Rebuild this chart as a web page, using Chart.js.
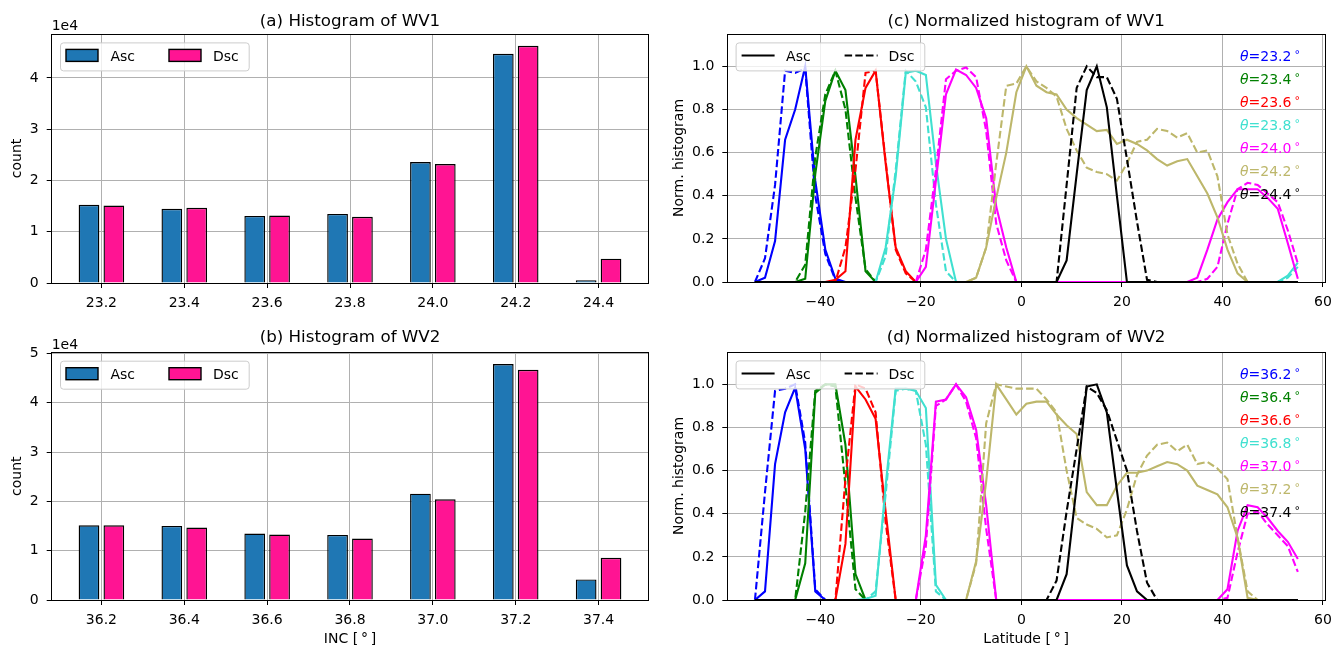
<!DOCTYPE html>
<html>
<head>
<meta charset="utf-8">
<script src="https://cdn.jsdelivr.net/npm/chart.js@4.4.1/dist/chart.umd.min.js"></script>
<style>
  html, body { margin: 0; padding: 0; background: #fff; }
  #wrap { position: relative; width: 1344px; height: 648px; }
  canvas { position: absolute; left: 0; top: 0; }
</style>
</head>
<body>
<div id="wrap">
  <canvas id="histWV1" width="1344" height="648"></canvas>
  <canvas id="histWV2" width="1344" height="648"></canvas>
  <canvas id="normWV1" width="1344" height="648"></canvas>
  <canvas id="normWV2" width="1344" height="648"></canvas>
</div>
<script>
// ====================== Histogram data (a), (b) ======================
const incWV1 = [23.2, 23.4, 23.6, 23.8, 24.0, 24.2, 24.4];
const incWV2 = [36.2, 36.4, 36.6, 36.8, 37.0, 37.2, 37.4];
const countWV1Asc = [15240, 14460, 13090, 13480, 23580, 44690, 520];
const countWV1Dsc = [15110, 14660, 13160, 12900, 23200, 46250, 4750];
const countWV2Asc = [15160, 15030, 13480, 13210, 21570, 47860, 4180];
const countWV2Dsc = [15160, 14690, 13270, 12470, 20420, 46710, 8560];
const countTicks = [0, 10000, 20000, 30000, 40000, 50000];

// ====================== Normalized histograms (c), (d) ======================
const latitudes = [-53, -51, -49, -47, -45, -43, -41, -39, -37, -35, -33, -31, -29, -27, -25, -23, -21, -19,
  -17, -15, -13, -11, -9, -7, -5, -3, -1, 1, 3, 5, 7, 9, 11, 13, 15, 17, 19, 21, 23, 25, 27, 29, 31, 33,
  35, 37, 39, 41, 43, 45, 47, 49, 51, 53, 55];
const latTicks = [-40, -20, 0, 20, 40, 60];
const normTicks = [0, 0.2, 0.4, 0.6, 0.8, 1.0];

// each series: runs of [first latitude, values every 2 deg], zero elsewhere
const wv1Asc232 = [[-53, [0, 0.02, 0.19, 0.66, 0.8, 1.0, 0.47, 0.15, 0.015]]];
const wv1Dsc232 = [[-53, [0, 0.11, 0.45, 0.98, 0.97, 0.99, 0.4, 0.13, 0.01]]];
const wv1Asc234 = [[-45, [0, 0.015, 0.5, 0.84, 0.98, 0.89, 0.49, 0.05]]];
const wv1Dsc234 = [[-45, [0, 0.08, 0.58, 0.87, 0.98, 0.8, 0.39, 0.06]]];
const wv1Asc236 = [[-37, [0.01, 0.05, 0.66, 0.9, 0.98, 0.55, 0.16, 0.05]]];
const wv1Dsc236 = [[-37, [0, 0.16, 0.52, 0.97, 0.98, 0.56, 0.15, 0.04]]];
const wv1Asc238 = [[-29, [0, 0.16, 0.49, 0.97, 0.98, 0.96, 0.55, 0.2]], [51, [0, 0.03, 0.09]]];
const wv1Dsc238 = [[-29, [0, 0.12, 0.52, 0.98, 0.93, 0.81, 0.36, 0.05]], [51, [0, 0.02, 0.07]]];
const wv1Asc240 = [[-21, [0, 0.07, 0.47, 0.87, 0.985, 0.96, 0.9, 0.76, 0.35, 0.16]],
  [33, [0, 0.02, 0.15, 0.29, 0.37, 0.43, 0.43, 0.43, 0.39, 0.34, 0.18, 0.015]]];
const wv1Dsc240 = [[-21, [0, 0.15, 0.52, 0.94, 0.98, 0.995, 0.95, 0.7, 0.27, 0.1]],
  [35, [0, 0.015, 0.07, 0.27, 0.43, 0.46, 0.45, 0.41, 0.37, 0.24, 0.085]]];
const wv1Asc242 = [[-11, [0, 0.02, 0.16, 0.39, 0.6, 0.88, 1.0, 0.91, 0.88, 0.87, 0.8, 0.76, 0.73, 0.7,
  0.705, 0.64, 0.66, 0.64, 0.61, 0.57, 0.54, 0.56, 0.57, 0.49, 0.41, 0.3, 0.15, 0.04]]];
const wv1Dsc242 = [[-11, [0, 0.02, 0.16, 0.55, 0.91, 0.92, 1.0, 0.93, 0.9, 0.86, 0.71, 0.61, 0.53, 0.51,
  0.5, 0.47, 0.55, 0.65, 0.66, 0.71, 0.7, 0.67, 0.69, 0.6, 0.61, 0.49, 0.22, 0.085]]];
const wv1Asc244 = [[5, [0, 0, 0.1, 0.5, 0.89, 1.0, 0.81, 0.4]]];
const wv1Dsc244 = [[5, [0, 0, 0.45, 0.9, 1.0, 0.95, 0.95, 0.85, 0.57, 0.28, 0.01]]];

const wv2Asc362 = [[-53, [0, 0.04, 0.63, 0.87, 0.985, 0.7, 0.04]]];
const wv2Dsc362 = [[-53, [0, 0.5, 0.97, 0.98, 1.0, 0.73, 0.05]]];
const wv2Asc364 = [[-45, [0, 0.17, 0.96, 1.0, 1.0, 0.72, 0.12]]];
const wv2Dsc364 = [[-45, [0, 0.41, 0.97, 1.0, 0.99, 0.53, 0.05]]];
const wv2Asc366 = [[-37, [0, 0.26, 0.99, 0.93, 0.84, 0.41]]];
const wv2Dsc366 = [[-37, [0, 0.56, 1.0, 0.98, 0.87, 0.36]]];
const wv2Asc368 = [[-31, [0.005, 0.02, 0.53, 0.98, 0.98, 0.97, 0.89, 0.07]]];
const wv2Dsc368 = [[-31, [0, 0.04, 0.49, 0.97, 0.98, 0.97, 0.72, 0.04]]];
const wv2Asc370 = [[-21, [0, 0.3, 0.92, 0.93, 1.0, 0.94, 0.79, 0.44]],
  [39, [0, 0.05, 0.32, 0.44, 0.43, 0.38, 0.32, 0.27, 0.19]]];
const wv2Dsc370 = [[-21, [0, 0.25, 0.9, 0.93, 1.0, 0.92, 0.75, 0.33]],
  [39, [0, 0.01, 0.22, 0.4, 0.41, 0.35, 0.3, 0.25, 0.13]]];
const wv2Asc372 = [[-11, [0, 0.18, 0.55, 1.0, 0.93, 0.86, 0.91, 0.92, 0.92, 0.86, 0.81, 0.77, 0.5, 0.44,
  0.44, 0.53, 0.59, 0.59, 0.6, 0.62, 0.64, 0.63, 0.6, 0.53, 0.51, 0.49, 0.43, 0.29, 0.01]]];
const wv2Dsc372 = [[-11, [0, 0.17, 0.82, 1.0, 0.99, 0.98, 0.98, 0.98, 0.93, 0.87, 0.6, 0.38, 0.35, 0.33,
  0.29, 0.3, 0.42, 0.58, 0.67, 0.72, 0.73, 0.69, 0.72, 0.63, 0.64, 0.61, 0.56, 0.29, 0.04]]];
const wv2Asc374 = [[5, [0, 0, 0.12, 0.53, 0.99, 1.0, 0.87, 0.51, 0.16, 0.04]]];
const wv2Dsc374 = [[3, [0, 0, 0.09, 0.41, 0.7, 0.99, 0.96, 0.88, 0.74, 0.6, 0.32, 0.08]]];

// ====================== Styles ======================
const ascColor = '#1f77b4';
const dscColor = '#ff1493';
const thetaColors = ['#0000ff', '#008000', '#ff0000', '#40e0d0', '#ff00ff', '#bdb76b', '#000000'];
const FONT = '"DejaVu Sans", sans-serif';
const Y_AXIS_W = 40, X_AXIS_H = 30;

Chart.defaults.font.family = FONT;
Chart.defaults.font.size = 14;
Chart.defaults.color = '#000';

// plot area in page pixels -> layout padding
function pad(area) {
  return { left: area.left - Y_AXIS_W, top: area.top, right: 1344 - area.right, bottom: 648 - area.bottom - X_AXIS_H };
}

function gridOpts() {
  return { color: '#b0b0b0', lineWidth: 1, tickColor: '#000', tickLength: 5, tickWidth: 1, offset: false };
}

function toPoints(runs) {
  const y = latitudes.map(() => 0);
  runs.forEach(([from, vals]) => {
    const start = latitudes.indexOf(from);
    vals.forEach((v, k) => { y[start + k] = v; });
  });
  return latitudes.map((x, i) => ({ x, y: y[i] }));
}

// ====================== Decorations (frame, titles, legend, labels) ======================
function decor(spec) {
  return {
    id: 'decor',
    afterDraw(chart) {
      const ctx = chart.ctx;
      const a = chart.chartArea;
      const px = v => Math.round(v - 0.5) + 0.5;
      ctx.save();

      ctx.strokeStyle = '#000';
      ctx.lineWidth = 1;
      ctx.strokeRect(px(a.left), px(a.top), px(a.right) - px(a.left), px(a.bottom) - px(a.top));

      ctx.fillStyle = '#000';
      ctx.textBaseline = 'alphabetic';
      ctx.textAlign = 'center';
      ctx.font = '16.7px ' + FONT;
      ctx.fillText(spec.title, (a.left + a.right) / 2, spec.titleY);

      ctx.font = '14px ' + FONT;
      if (spec.xlabel) ctx.fillText(spec.xlabel, (a.left + a.right) / 2, spec.xlabelY);
      if (spec.offsetText) {
        ctx.textAlign = 'left';
        ctx.fillText(spec.offsetText, a.left, spec.offsetY);
      }
      if (spec.ylabel) {
        ctx.save();
        ctx.translate(spec.ylabelX, (a.top + a.bottom) / 2);
        ctx.rotate(-Math.PI / 2);
        ctx.textAlign = 'center';
        ctx.textBaseline = 'middle';
        ctx.fillText(spec.ylabel, 0, 0);
        ctx.restore();
      }

      // theta labels
      if (spec.thetas) {
        const x0 = a.left + 512.7;
        spec.thetas.forEach((t, i) => {
          const yb = a.top + 26.6 + i * 23.1;
          let x = x0;
          ctx.fillStyle = thetaColors[i];
          ctx.textAlign = 'left';
          ctx.font = 'italic 14px ' + FONT;
          ctx.fillText('\u03b8', x, yb);
          x += ctx.measureText('\u03b8').width;
          ctx.font = '14px ' + FONT;
          const s = '=' + t;
          ctx.fillText(s, x, yb);
          x += ctx.measureText(s).width + 3;
          ctx.font = '11px ' + FONT;
          ctx.fillText('\u00b0', x, yb - 3);
        });
      }

      // legend
      const lg = spec.legend;
      const bx = a.left + 8.3, by = a.top + 8.4, bw = 188.7, bh = 28;
      ctx.beginPath();
      ctx.roundRect(bx + 0.5, by + 0.5, bw, bh, 3);
      ctx.fillStyle = 'rgba(255,255,255,0.8)';
      ctx.fill();
      ctx.strokeStyle = '#cccccc';
      ctx.lineWidth = 1;
      ctx.stroke();
      const cy = by + bh / 2;
      const handleX = [6, 109], textX = [50.5, 153];
      lg.items.forEach((it, i) => {
        const hx = bx + handleX[i];
        if (lg.kind === 'bar') {
          ctx.fillStyle = it.color;
          ctx.fillRect(hx, cy - 7, 32, 12);
          ctx.strokeStyle = '#000';
          ctx.lineWidth = 1.4;
          ctx.strokeRect(hx, cy - 7, 32, 12);
        } else {
          ctx.strokeStyle = '#000';
          ctx.lineWidth = 2;
          ctx.setLineDash(it.dash || []);
          ctx.beginPath();
          ctx.moveTo(hx, cy - 1);
          ctx.lineTo(hx + 33, cy - 1);
          ctx.stroke();
          ctx.setLineDash([]);
        }
        ctx.fillStyle = '#000';
        ctx.font = '14px ' + FONT;
        ctx.textAlign = 'left';
        ctx.textBaseline = 'middle';
        ctx.fillText(it.label, bx + textX[i], cy + 1);
      });
      ctx.restore();
    }
  };
}

// ====================== Histogram charts ======================
function histChart(id, inc, asc, dsc, xMin, xMax, area, spec) {
  const yMax = Math.max(...asc, ...dsc) * 1.05;
  const barStyle = { borderColor: '#000', borderWidth: 1.4, borderSkipped: 'start', categoryPercentage: 0.6, barPercentage: 0.8333 };
  new Chart(document.getElementById(id), {
    type: 'bar',
    data: {
      datasets: [
        Object.assign({ label: 'Asc', data: inc.map((x, i) => ({ x, y: asc[i] })), backgroundColor: ascColor }, barStyle),
        Object.assign({ label: 'Dsc', data: inc.map((x, i) => ({ x, y: dsc[i] })), backgroundColor: dscColor }, barStyle)
      ]
    },
    options: {
      responsive: false, animation: false, devicePixelRatio: 1, events: [],
      layout: { padding: pad(area) },
      plugins: { legend: { display: false }, tooltip: { enabled: false } },
      scales: {
        x: {
          type: 'linear', min: xMin, max: xMax, offset: false, bounds: 'data', z: 1,
          afterBuildTicks: s => { s.ticks = inc.map(v => ({ value: v })); },
          afterFit: s => { s.height = X_AXIS_H; s.paddingLeft = 0; s.paddingRight = 0; },
          grid: gridOpts(), border: { display: false },
          ticks: { callback: v => v.toFixed(1), maxRotation: 0, autoSkip: false, padding: 7 }
        },
        y: {
          type: 'linear', min: 0, max: yMax, bounds: 'data', z: 1,
          afterBuildTicks: s => { s.ticks = countTicks.filter(v => v <= yMax).map(v => ({ value: v })); },
          afterFit: s => { s.width = Y_AXIS_W; s.paddingTop = 0; s.paddingBottom = 0; },
          grid: gridOpts(), border: { display: false },
          ticks: { callback: v => String(v / 1e4), padding: 8 }
        }
      }
    },
    plugins: [decor(spec)]
  });
}

// ====================== Normalized histogram charts ======================
function normChart(id, ascList, dscList, area, spec) {
  const sets = [];
  ascList.forEach((runs, i) => {
    sets.push({ label: 'Asc', data: toPoints(runs), borderColor: thetaColors[i], borderWidth: 2.1,
      pointRadius: 0, tension: 0, clip: 0, order: -sets.length });
    sets.push({ label: 'Dsc', data: toPoints(dscList[i]), borderColor: thetaColors[i], borderWidth: 2.1,
      borderDash: [7.5, 3.2], pointRadius: 0, tension: 0, clip: 0, order: -sets.length });
  });
  new Chart(document.getElementById(id), {
    type: 'line',
    data: { datasets: sets },
    options: {
      responsive: false, animation: false, devicePixelRatio: 1, events: [],
      layout: { padding: pad(area) },
      plugins: { legend: { display: false }, tooltip: { enabled: false } },
      scales: {
        x: {
          type: 'linear', min: -58.5, max: 60.4, bounds: 'data',
          afterBuildTicks: s => { s.ticks = latTicks.map(v => ({ value: v })); },
          afterFit: s => { s.height = X_AXIS_H; s.paddingLeft = 0; s.paddingRight = 0; },
          grid: gridOpts(), border: { display: false },
          ticks: { callback: v => (v < 0 ? '\u2212' + Math.abs(v) : String(v)), maxRotation: 0, autoSkip: false, padding: 7 }
        },
        y: {
          type: 'linear', min: 0, max: 1.15, bounds: 'data',
          afterBuildTicks: s => { s.ticks = normTicks.map(v => ({ value: v })); },
          afterFit: s => { s.width = Y_AXIS_W; s.paddingTop = 0; s.paddingBottom = 0; },
          grid: gridOpts(), border: { display: false },
          ticks: { callback: v => v.toFixed(1), padding: 8 }
        }
      }
    },
    plugins: [decor(spec)]
  });
}

const barLegend = { kind: 'bar', items: [{ label: 'Asc', color: ascColor }, { label: 'Dsc', color: dscColor }] };
const lineLegend = { kind: 'line', items: [{ label: 'Asc' }, { label: 'Dsc', dash: [7.5, 3.2] }] };

histChart('histWV1', incWV1, countWV1Asc, countWV1Dsc, 23.08, 24.52,
  { left: 51.7, top: 34, right: 648.3, bottom: 283 },
  { title: '(a) Histogram of WV1', titleY: 25.5, ylabel: 'count', ylabelX: 17.5, offsetText: '1e4', offsetY: 30, legend: barLegend });

histChart('histWV2', incWV2, countWV2Asc, countWV2Dsc, 36.08, 37.52,
  { left: 51.7, top: 352.3, right: 648.3, bottom: 600 },
  { title: '(b) Histogram of WV2', titleY: 341.5, ylabel: 'count', ylabelX: 17.5, offsetText: '1e4', offsetY: 349.3,
    xlabel: 'INC [\u2009\u00b0\u2009]', xlabelY: 643, legend: barLegend });

normChart('normWV1',
  [wv1Asc232, wv1Asc234, wv1Asc236, wv1Asc238, wv1Asc240, wv1Asc242, wv1Asc244],
  [wv1Dsc232, wv1Dsc234, wv1Dsc236, wv1Dsc238, wv1Dsc240, wv1Dsc242, wv1Dsc244],
  { left: 727.3, top: 34, right: 1325, bottom: 282 },
  { title: '(c) Normalized histogram of WV1', titleY: 25.5, ylabel: 'Norm. histogram', ylabelX: 679.5,
    thetas: incWV1.map(v => v.toFixed(1)), legend: lineLegend });

normChart('normWV2',
  [wv2Asc362, wv2Asc364, wv2Asc366, wv2Asc368, wv2Asc370, wv2Asc372, wv2Asc374],
  [wv2Dsc362, wv2Dsc364, wv2Dsc366, wv2Dsc368, wv2Dsc370, wv2Dsc372, wv2Dsc374],
  { left: 727.3, top: 352, right: 1325, bottom: 600 },
  { title: '(d) Normalized histogram of WV2', titleY: 341.5, ylabel: 'Norm. histogram', ylabelX: 679.5,
    xlabel: 'Latitude [\u2009\u00b0\u2009]', xlabelY: 643, thetas: incWV2.map(v => v.toFixed(1)), legend: lineLegend });
</script>
</body>
</html>
